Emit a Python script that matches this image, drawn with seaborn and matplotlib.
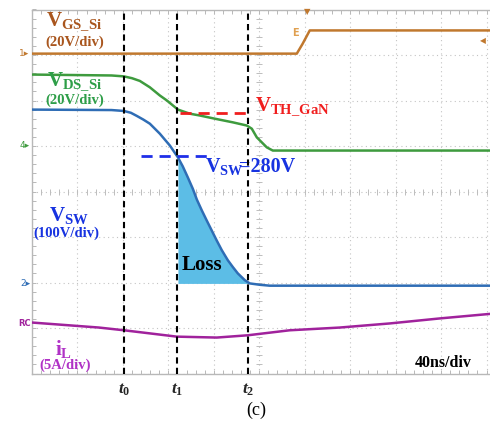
import numpy as np
import pandas as pd
import matplotlib
matplotlib.use("Agg")
import matplotlib.pyplot as plt
import seaborn as sns
from matplotlib.ticker import MultipleLocator

# ---------------- data (time in ns, 40 ns/div; amplitude in screen divisions) ----------------
t_vgs = [0, 233.0, 238.2, 244.4, 403]
v_gs = [7.03, 7.03, 7.25, 7.54, 7.54]

t_vds = [0, 70.0, 80.9, 88.0, 94.9, 103.7, 112.5, 118.7, 128.4, 138.9, 147.7, 160.9, 176.7,
         189.0, 193.4, 197.8, 202.2, 206.6, 211.9, 403]
v_ds = [6.57, 6.55, 6.53, 6.49, 6.43, 6.29, 6.11, 6.00, 5.80, 5.71, 5.67, 5.60, 5.52,
        5.45, 5.38, 5.19, 5.08, 4.97, 4.90, 4.90]

t_vsw = [0, 70.0, 80.9, 87.0, 92.3, 98.0, 103.7, 112.5, 121.3, 128.4, 132.7, 137.1, 141.5, 145.1,
         149.5, 153.8, 158.2, 162.6, 167.0, 172.3, 176.7, 181.1, 187.3, 191.6,
         200.4, 209.2, 403]
v_sw = [5.80, 5.79, 5.77, 5.73, 5.66, 5.58, 5.49, 5.27, 5.01, 4.75, 4.55, 4.31, 4.06, 3.82,
        3.58, 3.36, 3.14, 2.92, 2.71, 2.49, 2.34, 2.20, 2.05, 1.98,
        1.95, 1.93, 1.93]

t_il = [0, 58.9, 80.9, 127.5, 162.6, 189.9, 226.8, 270.8, 314.7, 358.7, 403]
i_l = [1.12, 1.01, 0.95, 0.81, 0.79, 0.84, 0.95, 1.01, 1.10, 1.21, 1.31]

t_marks = [81, 128, 190]
t_labels = [r"$t_{\mathit{0}}$", r"$t_{\mathit{1}}$", r"$t_{\mathit{2}}$"]

vth_level = 5.73
vth_span = [130, 192]
vsw280_level = 4.77
vsw280_span = [96, 156.5]
loss_floor = 1.98
loss_span = [128, 191.6]

# ---------------- style ----------------
sns.set_theme(style="white")
plt.rcParams["font.family"] = ["Liberation Serif", "DejaVu Sans"]
plt.rcParams["mathtext.fontset"] = "custom"
plt.rcParams["mathtext.rm"] = "Liberation Serif:bold"
plt.rcParams["mathtext.bf"] = "Liberation Serif:bold"
plt.rcParams["mathtext.it"] = "Liberation Serif:italic:bold"

c_gs, c_gs_txt = "#C0782E", "#A9561E"
c_ds, c_ds_txt = "#3E9B3E", "#2E9E48"
c_sw, c_sw_txt = "#2F6DB5", "#1733E0"
c_il, c_il_txt = "#A0229C", "#B032C6"
c_fill = "#5CBDE6"
c_red = "#F01E1E"

W, H = 490, 428
fig = plt.figure(figsize=(W / 100, H / 100), dpi=100)
ax = fig.add_axes([32 / W, 1 - 373.5 / H, 458 / W, 364 / H])
ax.set_xlim(0, 403)
ax.set_ylim(0, 8)

# graticule
for gx in np.arange(0, 401, 40):
    ax.axvline(gx, color="#C4C4C4", lw=0.8, ls=(0, (1, 3)), zorder=0)
for gy in np.arange(0, 8.01, 1):
    ax.axhline(gy, color="#C4C4C4", lw=0.8, ls=(0, (1, 3)), zorder=0)
xt = np.arange(0, 403, 8)
ax.plot(xt, np.full(len(xt), 4.0), ls="none", marker="|", ms=4, mew=0.7, color="#BDBDBD", zorder=0)
yt = np.arange(0, 8.01, 0.2)
ax.plot(np.full(len(yt), 200.0), yt, ls="none", marker="_", ms=4, mew=0.7, color="#BDBDBD", zorder=0)

for s in ax.spines.values():
    s.set_color("#B8B8B8")
    s.set_linewidth(1.0)
ax.spines["right"].set_visible(False)

ax.xaxis.set_minor_locator(MultipleLocator(8))
ax.yaxis.set_minor_locator(MultipleLocator(0.2))
ax.set_yticks([])
ax.set_xticks([])
ax.tick_params(which="minor", direction="in", length=3, width=0.7, color="#B8B8B8",
               top=True, bottom=True, left=True, right=False)

# loss area
tv = np.array(t_vsw)
vv = np.array(v_sw)
m = (tv >= loss_span[0]) & (tv <= loss_span[1])
ax.fill_between(tv[m], vv[m], loss_floor, color=c_fill, lw=0, zorder=1)

# traces
df = pd.concat([
    pd.DataFrame({"t": t_vgs, "v": v_gs, "ch": "vgs"}),
    pd.DataFrame({"t": t_vds, "v": v_ds, "ch": "vds"}),
    pd.DataFrame({"t": t_vsw, "v": v_sw, "ch": "vsw"}),
    pd.DataFrame({"t": t_il, "v": i_l, "ch": "il"}),
])
sns.lineplot(data=df, x="t", y="v", hue="ch", sort=False, estimator=None,
             palette={"vgs": c_gs, "vds": c_ds, "vsw": c_sw, "il": c_il},
             lw=1.8, legend=False, ax=ax, zorder=3)
ax.set_xlabel("")
ax.set_ylabel("")

# time markers
for tm in t_marks:
    ax.axvline(tm, color="black", lw=1.5, ls=(0, (3, 2)), zorder=4)
for tm, lab in zip(t_marks, t_labels):
    ax.text(tm, -0.44, lab, ha="center", va="baseline", fontsize=12.5, clip_on=False)

# level lines
ax.plot(vth_span, [vth_level] * 2, color=c_red, lw=2.0, ls=(0, (4, 2.5)), zorder=5)
ax.plot(vsw280_span, [vsw280_level] * 2, color="#1F2FE8", lw=2.0, ls=(0, (4, 2.5)), zorder=5)

# labels
ax.text(12.3, 7.65, r"$\mathrm{V}_{\mathrm{GS\_Si}}$", color=c_gs_txt, fontsize=15, va="baseline")
ax.text(11.4, 7.27, "(20V/div)", color=c_gs_txt, fontsize=10.5, weight="bold", va="center")
ax.text(13.2, 6.33, r"$\mathrm{V}_{\mathrm{DS\_Si}}$", color=c_ds_txt, fontsize=15, va="baseline")
ax.text(11.4, 6.0, "(20V/div)", color=c_ds_txt, fontsize=10.5, weight="bold", va="center")
ax.text(196, 5.78, r"$\mathrm{V}_{\mathrm{TH\_GaN}}$", color=c_red, fontsize=15, va="baseline")
ax.text(152, 4.42, r"$\mathrm{V}_{\mathrm{SW}}$", color=c_sw_txt, fontsize=14.5, va="baseline")
ax.text(182.5, 4.42, "=280V", color=c_sw_txt, fontsize=14.5, weight="bold", va="baseline")
ax.text(14.9, 3.36, r"$\mathrm{V}_{\mathrm{SW}}$", color=c_sw_txt, fontsize=15, va="baseline")
ax.text(0.9, 3.08, "(100V/div)", color=c_sw_txt, fontsize=10.5, weight="bold", va="center")
ax.text(131.9, 2.27, "Loss", color="black", fontsize=15, weight="bold", va="baseline")
ax.text(20.2, 0.40, r"$\mathrm{i}_{\mathrm{L}}$", color=c_il_txt, fontsize=15, va="baseline")
ax.text(6.2, 0.18, "(5A/div)", color=c_il_txt, fontsize=10.5, weight="bold", va="center")
ax.text(336.7, 0.22, "40ns/div", color="black", fontsize=11.5, weight="bold", va="center")

# scope channel markers
def ftxt(x, y, s, **kw):
    fig.text(x / W, 1 - y / H, s, ha="center", va="center", **kw)

ftxt(24, 53, "1\u25B8", color=c_gs, fontsize=6.5, family="DejaVu Sans")
ftxt(25, 146, "4\u25B8", color=c_ds, fontsize=6.5, family="DejaVu Sans")
ftxt(25, 283, "2\u25B8", color=c_sw, fontsize=6.5, family="DejaVu Sans")
ftxt(25, 323, "RC", color=c_il, fontsize=6, weight="bold", family="DejaVu Sans")
ftxt(307, 12, "\u25BC", color=c_gs, fontsize=6, family="DejaVu Sans")
ftxt(295, 33, "E", color="#E0A050", fontsize=7, weight="bold", family="DejaVu Sans")
ftxt(483, 41, "\u25C0", color=c_gs, fontsize=5.5, family="DejaVu Sans")

ftxt(256, 410, "(c)", color="black", fontsize=13)

fig.savefig("out.png", dpi=100, facecolor="white")
